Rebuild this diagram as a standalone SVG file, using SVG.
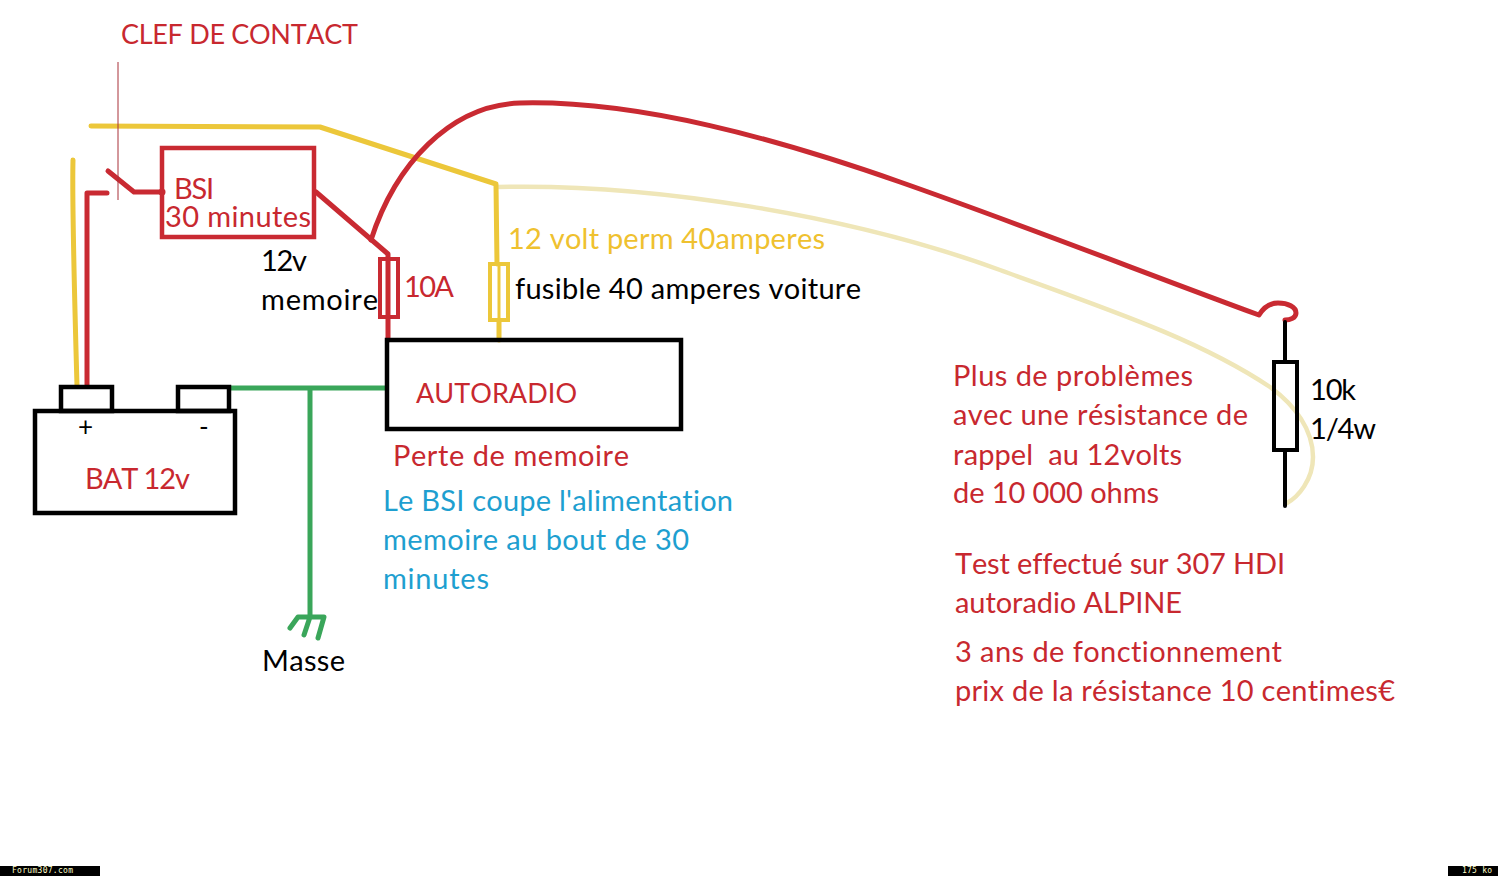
<svg xmlns="http://www.w3.org/2000/svg" width="1498" height="876" viewBox="0 0 1498 876">
<style>
text{font-family:Lato,"Liberation Sans",sans-serif;font-size:29px;font-variant-ligatures:none;font-kerning:none}
.caps{font-size:27px}
.r{fill:#c8282f}.k{fill:#000}.y{fill:#efc12f}.b{fill:#1e9fd0}
.w{fill:none;stroke-linecap:round;stroke-linejoin:round}
.wr{stroke:#c92a32;stroke-width:5}.wy{stroke:#ecc73a;stroke-width:5}.wg{stroke:#3aa65a;stroke-width:5}.wp{stroke:#efe6b8;stroke-width:4.5}.wk{stroke:#000;stroke-width:4}
.box{fill:none;stroke-linejoin:miter}
.tiny{font-family:"DejaVu Sans Mono",monospace;font-size:8px;fill:#ffffc8}
</style>
<rect width="1498" height="876" fill="#fff"/>
<g id="connectors">
<path class="w wp" d="M497 187C650 183 850 215 1000 270C1110 310 1200 340 1270 387C1295 405 1313 430 1313 457C1313 480 1298 497 1287 503"/>
<path class="w wy" d="M91 126L320 127L496 184L497 264M499 320V340"/>
<path class="w wy" d="M73 160C72 200 74 280 77 386"/>
<path class="w wr" d="M107 193H87V386"/>
<path class="w wr" d="M108 171L134 192H162"/>
<circle cx="162" cy="192" r="3.5" fill="#c92a32"/>
<path d="M118 62V200" stroke="#a83038" stroke-width="1" fill="none"/>
<path class="w wr" d="M316 192L388 254V340"/>
<path class="w wr" d="M371 240C395 165 450 105 520 103C640 100 780 140 900 182C1020 224 1150 275 1259 315C1264 307 1271 303 1278 303C1288 303 1296 307 1296 313C1296 318 1290 320 1285 320"/>
<path class="w wk" d="M1285 322V362M1285 450V506"/>
<path class="w wg" d="M230 388H386M310 388V617M290 628L298 617H324L318 638M310 617L304 635"/>
</g>
<g id="clef"><text class="r caps" x="121" y="44" textLength="237">CLEF DE CONTACT</text></g>
<g id="bsi">
<rect class="box" x="162" y="148" width="152" height="89" stroke="#c92a32" stroke-width="4.5"/>
<text class="r" x="174" y="199" textLength="40">BSI</text>
<text class="r" x="165" y="227" textLength="146">30 minutes</text>
</g>
<g id="fuse10a">
<rect class="box" x="380" y="259" width="18" height="58" stroke="#c92a32" stroke-width="4"/>
<text class="r" x="404" y="297" textLength="50">10A</text>
</g>
<g id="fuse40a">
<rect class="box" x="490" y="264" width="18" height="56" stroke="#ecc73a" stroke-width="4"/>
<path d="M499 264V320" stroke="#ecc73a" stroke-width="3" fill="none"/>
<text class="k" x="515" y="299" textLength="346">fusible 40 amperes voiture</text>
</g>
<g id="memoire-label">
<text class="k" x="261" y="271" textLength="46">12v</text>
<text class="k" x="261" y="310" textLength="117">memoire</text>
</g>
<g id="perm-label"><text class="y" x="508" y="249" textLength="317">12 volt perm 40amperes</text></g>
<g id="autoradio">
<rect class="box" x="387" y="340" width="294" height="89" stroke="#000" stroke-width="4.5"/>
<text class="r caps" x="416" y="403" textLength="161">AUTORADIO</text>
</g>
<g id="battery">
<rect class="box" x="35" y="411" width="200" height="102" stroke="#000" stroke-width="4.5"/>
<rect class="box" x="61" y="387" width="51" height="24" stroke="#000" stroke-width="4.5"/>
<rect class="box" x="178" y="387" width="51" height="24" stroke="#000" stroke-width="4.5"/>
<text class="k" x="78" y="436" style="font-size:26px">+</text>
<text class="k" x="199" y="436" style="font-size:26px">-</text>
<text class="r" x="85" y="489" textLength="105">BAT 12v</text>
</g>
<g id="perte"><text class="r" x="393" y="466" textLength="236">Perte de memoire</text></g>
<g id="bsi-note">
<text class="b" x="383" y="511" textLength="350">Le BSI coupe l'alimentation</text>
<text class="b" x="383" y="550" textLength="306">memoire au bout de 30</text>
<text class="b" x="383" y="589" textLength="106">minutes</text>
</g>
<g id="masse"><text class="k" x="262" y="671" textLength="83">Masse</text></g>
<g id="resistor">
<rect x="1274" y="362" width="23" height="88" fill="none" stroke="#000" stroke-width="4"/>
<text class="k" x="1310" y="400" textLength="46">10k</text>
<text class="k" x="1310" y="439" textLength="66">1/4w</text>
</g>
<g id="note">
<text class="r" x="953" y="386" textLength="240">Plus de problèmes</text>
<text class="r" x="953" y="425" textLength="295">avec une résistance de</text>
<text class="r" x="953" y="465" textLength="229" xml:space="preserve">rappel  au 12volts</text>
<text class="r" x="953" y="503" textLength="206">de 10 000 ohms</text>
<text class="r" x="955" y="574" textLength="330">Test effectué sur 307 HDI</text>
<text class="r" x="955" y="613" textLength="227">autoradio ALPINE</text>
<text class="r" x="955" y="662" textLength="327">3 ans de fonctionnement</text>
<text class="r" x="955" y="701" textLength="440">prix de la résistance 10 centimes€</text>
</g>
<g id="footer">
<rect x="0" y="866" width="100" height="10" fill="#000"/>
<rect x="1448" y="866" width="50" height="10" fill="#000"/>
<text class="tiny" x="12" y="873" textLength="61">Forum307.com</text>
<text class="tiny" x="1462" y="873" textLength="30">175 ko</text>
</g>
</svg>
